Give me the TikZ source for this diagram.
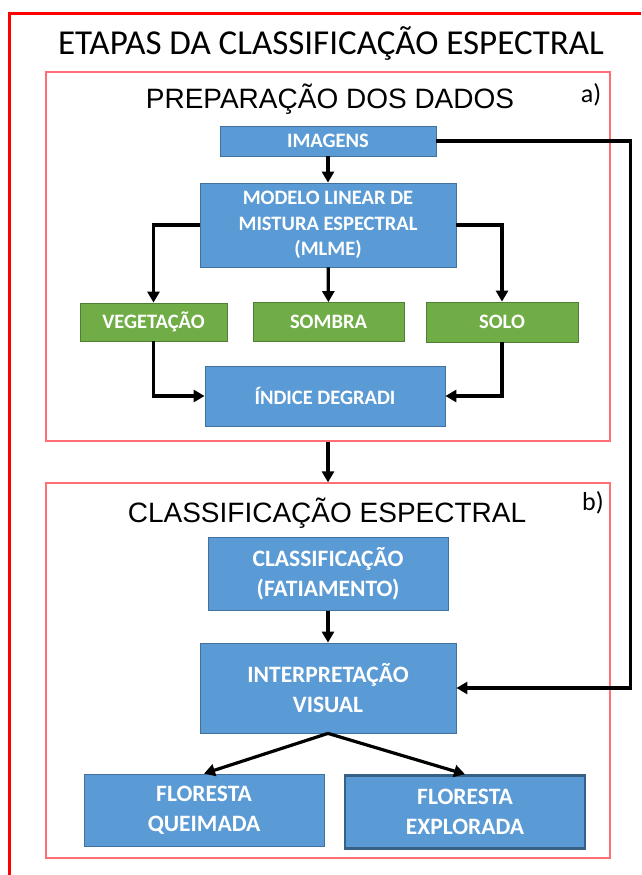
\documentclass[tikz,border=0pt]{standalone}
\usepackage{fontspec}
\setmainfont{Carlito}
\newfontfamily\arialfont{Liberation Sans}
\usetikzlibrary{arrows.meta,positioning}

\definecolor{azulcaixa}{HTML}{5B9BD5}
\definecolor{azulborda}{HTML}{41719C}
\definecolor{verdecaixa}{HTML}{70AD47}
\definecolor{verdeborda}{HTML}{507E32}
\definecolor{vermelhoclaro}{HTML}{FF6F73}

\begin{document}
\begin{tikzpicture}[x=1pt,y=-1pt]

    \tikzstyle{azul} = [draw=azulborda, fill=azulcaixa, text=white, align=center,
    inner sep=0pt, line width=0.8pt, font=\bfseries\fontsize{20.5}{25.5}\selectfont]

    \tikzstyle{azulg} = [azul, font=\bfseries\fontsize{23.5}{30}\selectfont]

    \tikzstyle{verde} = [draw=verdeborda, fill=verdecaixa, text=white, align=center,
    inner sep=0pt, line width=0.8pt, font=\bfseries\fontsize{20.5}{25.5}\selectfont]

    \tikzstyle{quadro} = [draw=vermelhoclaro, line width=1.3pt, inner sep=0pt]

    \tikzstyle{cabeca} = [font=\arialfont\fontsize{28}{30}\selectfont]

    \tikzstyle{seta} = [-{Triangle[length=11pt,width=12pt]}, line width=3.2pt]

    \useasboundingbox (0,0) rectangle (641,875);

    % moldura externa
    \draw[red, line width=3pt] (9,875) |- (641,14);

    \draw
    (331,44) node [font=\fontsize{35}{38}\selectfont] (titulo) {ETAPAS DA CLASSIFICAÇÃO ESPECTRAL}
    (328,256.5) node [quadro, minimum width=564pt, minimum height=369pt] (prep) {}
    (328,670.5) node [quadro, minimum width=564pt, minimum height=375pt] (classesp) {}
    (330,99) node [cabeca] (tprep) {PREPARAÇÃO DOS DADOS}
    (327,513) node [cabeca] (tclass) {CLASSIFICAÇÃO ESPECTRAL}
    (591,95) node [font=\fontsize{26}{28}\selectfont] (la) {a)}
    (593,503) node [font=\fontsize{26}{28}\selectfont] (lb) {b)}
    ;

    \draw
    (328,141) node [azul, minimum width=216pt, minimum height=30pt] (imagens) {IMAGENS}
    (328,225) node [azul, minimum width=256pt, minimum height=84pt] (mlme) {MODELO LINEAR DE\\MISTURA ESPECTRAL\\(MLME)}
    (153.5,322) node [verde, minimum width=147pt, minimum height=38pt] (veg) {VEGETAÇÃO}
    (328.5,322) node [verde, minimum width=151pt, minimum height=39pt] (sombra) {SOMBRA}
    (502,322) node [verde, minimum width=152pt, minimum height=40pt] (solo) {SOLO}
    (325,396) node [azul, minimum width=240pt, minimum height=60pt] (indice) {ÍNDICE DEGRADI}
    ;

    \draw
    (328,574) node [azulg, minimum width=240pt, minimum height=73pt] (fatia) {CLASSIFICAÇÃO\\(FATIAMENTO)}
    (328,688) node [azulg, minimum width=256pt, minimum height=90pt] (interp) {INTERPRETAÇÃO\\VISUAL}
    (204,810) node [azulg, minimum width=240pt, minimum height=72pt] (queimada) {FLORESTA\\QUEIMADA}
    (465,812) node [azulg, draw=azulborda!85!black, line width=2.5pt, minimum width=240pt, minimum height=73pt] (explorada) {FLORESTA\\EXPLORADA}
    ;

    \draw [seta] (imagens) -- (mlme);
    \draw [seta] (mlme.west) -| (veg.north);
    \draw [seta] (mlme) -- (sombra);
    \draw [seta] (mlme.east) -| (solo.north);
    \draw [seta] (veg.south) |- (indice.west);
    \draw [seta] (solo.south) |- (indice.east);
    \draw [seta] (prep.south) -- (classesp.north);
    \draw [seta] (imagens.east) -- ++(194,0) |- (interp.east);
    \draw [seta] (fatia) -- (interp);
    \draw [seta] (interp.south) -- (queimada.north);
    \draw [seta] (interp.south) -- (explorada.north);
  \end{tikzpicture}
\end{document}
